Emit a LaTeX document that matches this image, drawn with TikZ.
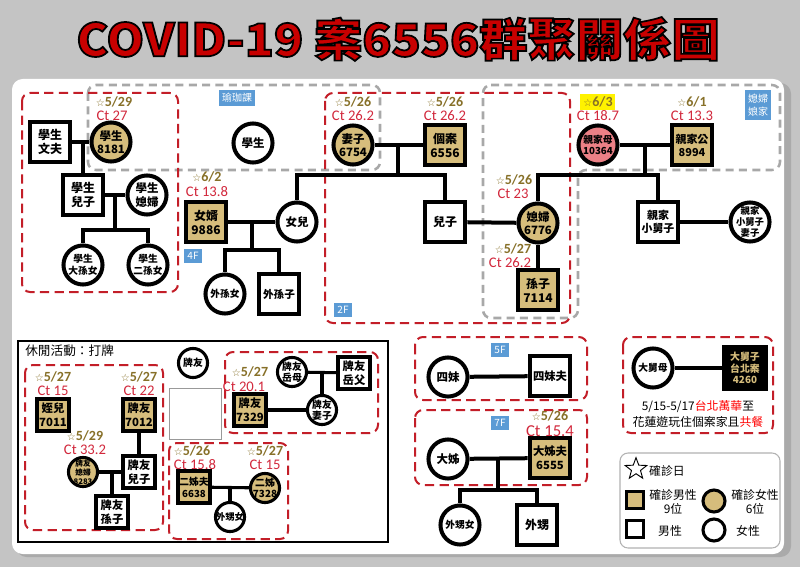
\documentclass[tikz,border=0pt]{standalone}
\usepackage{fontspec}
\setmainfont{Noto Sans CJK TC}
\newfontfamily\latinf{Carlito}
\newfontfamily\symf{DejaVu Sans}
\usetikzlibrary{shapes.geometric,calc}
\definecolor{gold}{RGB}{214,189,124}
\definecolor{pinkf}{RGB}{236,128,134}
\definecolor{datecol}{RGB}{135,112,40}
\definecolor{ctcol}{RGB}{210,40,60}
\definecolor{tagblue}{RGB}{91,155,213}
\definecolor{dashred}{RGB}{195,30,40}
\definecolor{dashgray}{RGB}{168,168,168}
\definecolor{bggray}{RGB}{196,196,196}
\definecolor{shadowgray}{RGB}{170,170,170}
\definecolor{titlered}{RGB}{200,0,0}
\newcommand{\st}{{\symf\fontsize{7.5}{7.5}\selectfont ☆}}
\newcommand{\outlinedtext}[1]{\special{pdf:literal direct 0 0 0 RG 1.3 w 2 Tr}#1\special{pdf:literal direct 0 Tr}}
\begin{document}
\begin{tikzpicture}[x=0.75pt,y=-0.75pt,
  every node/.style={inner sep=0pt, align=center},
  nf/.style={font=\fontsize{9}{10.5}\selectfont\bfseries},
  cf/.style={font=\fontsize{8.6}{10}\selectfont\bfseries},
  cf3/.style={font=\fontsize{7.3}{8.6}\selectfont\bfseries},
  snf/.style={font=\fontsize{8.5}{10.2}\selectfont\bfseries},
  snf3/.style={font=\fontsize{7.3}{9}\selectfont\bfseries},
  scf/.style={font=\fontsize{7.4}{8.6}\selectfont\bfseries},
  sq/.style={rectangle, draw, line width=3.7pt, minimum size=30pt, fill=white, nf},
  gsq/.style={sq, fill=gold},
  ci/.style={circle, draw, line width=3pt, minimum size=29.3pt, inner sep=-12pt, fill=white, cf},
  gci/.style={ci, fill=gold},
  ssq/.style={rectangle, draw, line width=3pt, minimum size=23.3pt, fill=white, snf},
  gssq/.style={ssq, fill=gold},
  sci/.style={circle, draw, line width=2.3pt, minimum size=21.8pt, inner sep=-12pt, fill=white, scf},
  gsci/.style={sci, fill=gold},
  link/.style={line width=3pt},
  slink/.style={line width=2.3pt},
  dt/.style={text=datecol, font=\latinf\bfseries\fontsize{10.5}{11}\selectfont},
  ct/.style={text=ctcol, font=\latinf\fontsize{11}{11}\selectfont},
  tag/.style={fill=tagblue, text=white, font=\fontsize{7.5}{9}\selectfont, inner sep=2.6pt},
  rdash/.style={draw=dashred, line width=1.5pt, dash pattern=on 7pt off 4pt, rounded corners=6pt},
  gdash/.style={draw=dashgray, line width=1.9pt, dash pattern=on 6pt off 4pt, rounded corners=6pt},
  txt/.style={font=\fontsize{8.9}{10.5}\selectfont}
]
\useasboundingbox (0,0) rectangle (800,567);
% background and panel
\fill[bggray] (0,0) rectangle (800,567);
\fill[shadowgray, rounded corners=8pt] (16,83) rectangle (791,557);
\fill[white, rounded corners=8pt] (12,79) rectangle (784,554);
% title
\node (title) at (398,39) {\fontsize{34}{34}\selectfont\bfseries\scalebox{1.06}[1]{\textcolor{titlered}{\outlinedtext{COVID-19 案6556群聚關係圖}}}};

% dashed groups
\draw[gdash] (88,85) rectangle (380,170);
\draw[gdash] (483,85) -- (780,85) -- (780,170) -- (578,170) -- (578,318) -- (483,318) -- cycle;
\draw[rdash] (22,93) rectangle (178,292);
\draw[rdash] (325,93) rectangle (570,323);

% black box
\draw[line width=1.6pt] (18,341) rectangle (388,542);
\node[anchor=west, font=\fontsize{9.5}{10}\selectfont] (leisure) at (25,351) {休閒活動：打牌};
\draw[rdash] (25,365) rectangle (163,530);
\draw[rdash] (225,352) rectangle (378,433);
\draw[rdash] (169,443) rectangle (288,539);
\draw[rdash] (415,337) rectangle (587,400);
\draw[rdash] (415,410) rectangle (587,485);
\draw[rdash] (623,337) rectangle (773,433);

% tags
\node[tag] (tagyoga) at (237,98) {瑜珈課};
\node[tag] (tag4f) at (193,256) {4F};
\node[tag] (tag2f) at (343,310) {2F};
\node[tag] (tag5f) at (500,350) {5F};
\node[tag] (tag7f) at (500,423) {7F};
\node[tag, font=\fontsize{7.5}{10}\selectfont] (taginlaw) at (758,105) {媳婦\\娘家};

% coordinates for connectors
\coordinate (j1) at (83,142);
\coordinate (j2) at (115,195);
\coordinate (b1) at (115,230);
\coordinate (j3) at (252,222);
\coordinate (b2) at (252,250);
\coordinate (j4) at (398,145);
\coordinate (c2) at (398,175);
\coordinate (j5) at (645,145);
\coordinate (c3) at (645,175);
\coordinate (j6) at (112,472);
\coordinate (j7) at (322,372);
\coordinate (j8) at (230,488);
\coordinate (j9) at (498,458);
\coordinate (b3) at (498,490);

% top-left family
\node[sq] (wenfu) at (50,142) {學生\\文夫};
\node[gci] (s8181) at (111,142) {學生\\8181};
\node[sq] (serzi) at (83,195) {學生\\兒子};
\node[ci] (sxifu) at (147,195) {學生\\媳婦};
\node[ci, cf3] (sdsn) at (83,265) {學生\\大孫女};
\node[ci, cf3] (sesn) at (148,265) {學生\\二孫女};
\node[dt] (d8181) at (114,102) {\st 5/29};
\node[ct] (c8181) at (112,116) {Ct 27};

% middle
\node[ci] (student) at (253,143) {學生};
\node[gsq] (nx9886) at (206,222) {女婿\\9886};
\node[ci] (daughter) at (297,222) {女兒};
\node[ci, cf3] (wsn) at (225,294) {外孫女};
\node[sq, font=\fontsize{8}{9}\selectfont\bfseries] (wsz) at (279,294) {外孫子};
\node[dt] (d9886) at (207,177) {\st 6/2};
\node[ct] (c9886) at (207,192) {Ct 13.8};

% 2F
\node[gci] (w6754) at (353,145) {妻子\\6754};
\node[gsq] (p6556) at (445,145) {個案\\6556};
\node[sq] (son) at (445,222) {兒子};
\node[dt] (d6754) at (353,102) {\st 5/26};
\node[ct] (c6754) at (353,116) {Ct 26.2};
\node[dt] (d6556) at (445,102) {\st 5/26};
\node[ct] (c6556) at (445,116) {Ct 26.2};

% right
\node[gci] (dil) at (538,223) {媳婦\\6776};
\node[gsq] (gs7114) at (538,290) {孫子\\7114};
\node[ci, cf3, fill=pinkf] (m10364) at (598,145) {親家母\\10364};
\node[gsq, font=\fontsize{8.2}{10}\selectfont\bfseries] (f8994) at (692,145) {親家公\\8994};
\node[sq, font=\fontsize{8.2}{10}\selectfont\bfseries] (bro) at (658,222) {親家\\小舅子};
\node[ci, font=\fontsize{7}{8.2}\selectfont\bfseries] (browife) at (750,222) {親家\\小舅子\\妻子};
\node[dt] (d6776) at (514,180) {\st 5/26};
\node[ct] (c6776) at (513,194) {Ct 23};
\node[dt] (d7114) at (513,249) {\st 5/27};
\node[ct] (c7114) at (510,263) {Ct 26.2};
\fill[yellow] (580,94) rectangle (615,110);
\node[dt] (d10364) at (598,102) {\st 6/3};
\node[ct] (c10364) at (598,116) {Ct 18.7};
\node[dt] (d8994) at (692,102) {\st 6/1};
\node[ct] (c8994) at (692,116) {Ct 13.3};

% bottom-left mahjong group
\node[gssq] (n7011) at (53,415) {姪兒\\7011};
\node[gssq] (n7012) at (139,415) {牌友\\7012};
\node[gsci, font=\fontsize{5.8}{6.6}\selectfont\bfseries] (n8283) at (83,472) {牌友\\媳婦\\8283};
\node[ssq] (perzi) at (139,472) {牌友\\兒子};
\node[ssq] (psunzi) at (112,512) {牌友\\孫子};
\node[dt] (d7011) at (53,377) {\st 5/27};
\node[ct] (c7011) at (53,391) {Ct 15};
\node[dt] (d7012) at (139,377) {\st 5/27};
\node[ct] (c7012) at (139,391) {Ct 22};
\node[dt] (d8283) at (85,436) {\st 5/29};
\node[ct] (c8283) at (85,450) {Ct 33.2};

\node[sci] (paiyou) at (193,363) {牌友};
\draw[draw=gray!80, line width=0.6pt] (169,388) rectangle (221,439);

\node[sci] (ym) at (292,372) {牌友\\岳母};
\node[ssq] (yf) at (354,373) {牌友\\岳父};
\node[sci] (pwife) at (322,410) {牌友\\妻子};
\node[gssq] (n7329) at (250,410) {牌友\\7329};
\node[dt] (d7329) at (250,372) {\st 5/27};
\node[ct] (c7329) at (244,387) {Ct 20.1};

\node[gssq, snf3] (n6638) at (194,487) {二姊夫\\6638};
\node[gsci] (n7328) at (265,488) {二姊\\7328};
\node[sci, font=\fontsize{7}{8}\selectfont\bfseries] (wsnv) at (230,517) {外甥女};
\node[dt] (d6638) at (192,451) {\st 5/26};
\node[ct] (c6638) at (195,465) {Ct 15.8};
\node[dt] (d7328) at (265,451) {\st 5/27};
\node[ct] (c7328) at (265,465) {Ct 15};

% 5F / 7F
\node[ci] (simei) at (448,377) {四妹};
\node[sq, font=\fontsize{8.5}{10}\selectfont\bfseries] (simeifu) at (550,376) {四妹夫};
\node[ci] (dajie) at (448,459) {大姊};
\node[gsq, font=\fontsize{8.5}{10.5}\selectfont\bfseries] (n6555) at (550,458) {大姊夫\\6555};
\node[ci, cf3] (wsnv2) at (460,525) {外甥女};
\node[sq] (wsheng) at (537,525) {外甥};
\node[dt] (d6555) at (550,416) {\st 5/26};
\node[ct, font=\latinf\fontsize{12.5}{12.5}\selectfont] (c6555) at (550,431) {Ct 15.4};

% uncle group
\node[ci, cf3] (djm) at (653,368) {大舅母};
\node[rectangle, fill=black, draw=black, line width=2pt, minimum size=32pt, text=gold, font=\fontsize{7.4}{8.6}\selectfont\bfseries] (n4260) at (745,368) {大舅子\\台北案\\4260};
\node[txt] (trip1) at (698,407) {5/15-5/17\textcolor{red}{台北萬華}至};
\node[txt] (trip2) at (698,422) {花蓮遊玩住個案家且\textcolor{red}{共餐}};

% connectors between named nodes
\draw[link] (wenfu) -- (s8181);
\draw[link] (j1) -- (serzi.north);
\draw[link] (serzi) -- (sxifu);
\draw[link] (j2) -- (b1);
\draw[link] (sdsn.north) |- (b1) -| (sesn.north);
\draw[link] (nx9886) -- (daughter);
\draw[link] (j3) -- (b2);
\draw[link] (wsn.north) |- (b2) -| (wsz.north);
\draw[link] (w6754) -- (p6556);
\draw[link] (j4) -- (c2);
\draw[link] (daughter.north) |- (c2) -| (son.north);
\draw[link] (son) -- (dil);
\draw[link] (dil) -- (gs7114);
\draw[link] (m10364) -- (f8994);
\draw[link] (j5) -- (c3);
\draw[link] (dil.north) |- (c3) -| (bro.north);
\draw[link] (bro) -- (browife);
\draw[slink] (n7012) -- (perzi);
\draw[slink] (n8283) -- (perzi);
\draw[slink] (j6) -- (psunzi.north);
\draw[slink] (ym) -- (yf);
\draw[slink] (j7) -- (pwife.north);
\draw[slink] (n7329) -- (pwife);
\draw[slink] (n6638) -- (n7328);
\draw[slink] (j8) -- (wsnv.north);
\draw[link] (simei) -- (simeifu);
\draw[link] (dajie) -- (n6555);
\draw[link] (j9) -- (b3);
\draw[link] (wsnv2.north) |- (b3) -| (wsheng.north);
\draw[link] (djm) -- (n4260);

% legend
\draw[draw=gray!60, line width=0.8pt, rounded corners=6pt] (620,453) rectangle (780,548);
\node[star, star points=5, star point ratio=2.4, draw, line width=0.7pt, minimum size=17pt] (lstar) at (636,469) {};
\node[txt] (lstart) at (667,471) {確診日};
\node[rectangle, draw, line width=2.3pt, fill=gold, minimum size=13pt] (lgsq) at (635,500) {};
\node[txt] (lgsqt) at (673,502) {確診男性\\9位};
\node[circle, draw, line width=2.3pt, fill=gold, minimum size=16.5pt] (lgci) at (714,501) {};
\node[txt] (lgcit) at (755,502) {確診女性\\6位};
\node[rectangle, draw, line width=2.3pt, fill=white, minimum size=13pt] (lwsq) at (635,529) {};
\node[txt] (lwsqt) at (670,531) {男性};
\node[circle, draw, line width=2.3pt, fill=white, minimum size=16.5pt] (lwci) at (714,530) {};
\node[txt] (lwcit) at (748,531) {女性};
\end{tikzpicture}
\end{document}
